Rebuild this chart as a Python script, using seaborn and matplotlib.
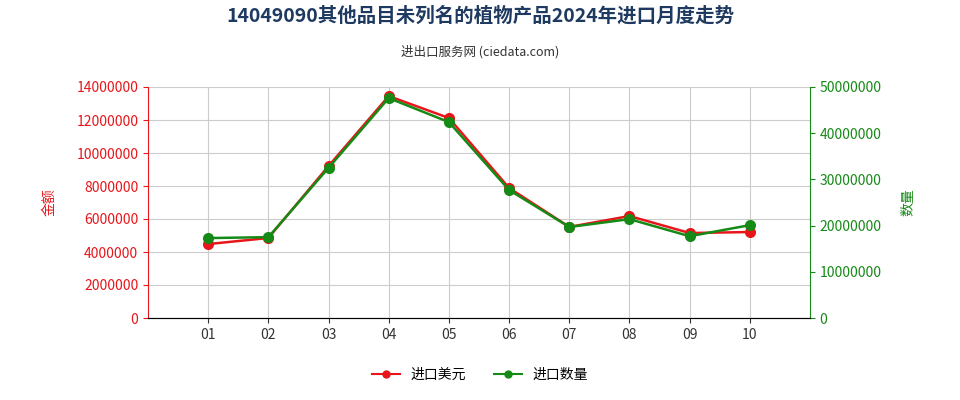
import matplotlib
matplotlib.use("Agg")
import matplotlib.pyplot as plt
import seaborn as sns
import pandas as pd

plt.rcParams['font.family'] = ['Noto Sans CJK SC', 'DejaVu Sans']

months = ["01", "02", "03", "04", "05", "06", "07", "08", "09", "10"]
import_value = [4480000, 4850000, 9210000, 13450000, 12120000, 7880000, 5520000, 6180000, 5150000, 5210000]
import_qty = [17300000, 17500000, 32500000, 47600000, 42400000, 27700000, 19700000, 21400000, 17700000, 20100000]

df = pd.DataFrame({"x": range(len(months)), "value": import_value, "qty": import_qty})

fig = plt.figure(figsize=(9.6, 4.0), dpi=100)
ax = fig.add_axes([148/960, 82/400, 662/960, 231/400])
ax2 = ax.twinx()

sns.lineplot(data=df, x="x", y="value", ax=ax, color="#e8161a", marker="o",
             markersize=8, markeredgewidth=0, linewidth=1.8)
sns.lineplot(data=df, x="x", y="qty", ax=ax2, color="#168a16", marker="o",
             markersize=8, markeredgewidth=0, linewidth=1.8)

ax.set_xlim(-1, 10)
ax.set_ylim(0, 14000000)
ax2.set_ylim(0, 50000000)
ax.set_yticks(range(0, 14000001, 2000000))
ax2.set_yticks(range(0, 50000001, 10000000))
ax.set_xticks(range(len(months)))
ax.set_xticklabels(months)
ax.ticklabel_format(axis='y', style='plain')
ax2.ticklabel_format(axis='y', style='plain')

ax.grid(True, color="#cccccc", linewidth=0.8)
ax.set_axisbelow(True)
for s in ["top", "right"]:
    ax.spines[s].set_visible(False)
ax2.spines["top"].set_visible(False)
ax.spines["left"].set_color("#e8161a")
ax2.spines["left"].set_visible(False)
ax2.spines["right"].set_color("#168a16")
ax.spines["bottom"].set_color("#666666")
ax.tick_params(axis='y', colors="#e8161a", labelsize=10)
ax2.tick_params(axis='y', colors="#168a16", labelsize=10)
ax.tick_params(axis='x', labelsize=10, colors="#333333")

ax.set_xlabel("")
ax.set_ylabel("金额", color="#e8161a", fontsize=10, labelpad=14)
ax2.set_ylabel("数量", color="#168a16", fontsize=10, labelpad=14, rotation=90)

fig.text(0.5, 0.945, "14049090其他品目未列名的植物产品2024年进口月度走势", ha="center",
         fontsize=14, fontweight="bold", color="#1f3a60")
fig.text(0.5, 0.86, "进出口服务网 (ciedata.com)", ha="center", fontsize=9, color="#333333")

h1 = plt.Line2D([], [], color="#e8161a", marker="o", markersize=5, label="进口美元")
h2 = plt.Line2D([], [], color="#168a16", marker="o", markersize=5, label="进口数量")
fig.legend(handles=[h1, h2], loc="center", bbox_to_anchor=(0.5, 0.062), ncol=2,
           frameon=False, fontsize=10)

fig.savefig("out.png", dpi=100)
